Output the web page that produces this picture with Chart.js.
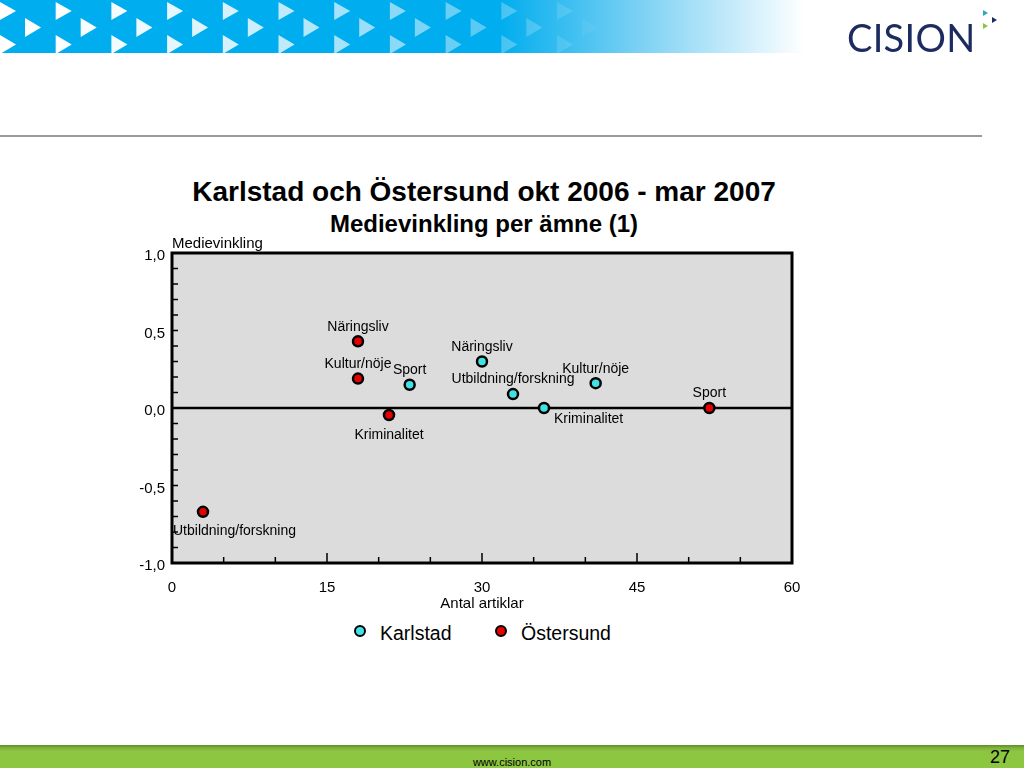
<!DOCTYPE html>
<html>
<head>
<meta charset="utf-8">
<script src="https://cdn.jsdelivr.net/npm/chart.js@4"></script>
<style>
  html, body { margin: 0; padding: 0; background: #fff; }
  body { width: 1024px; height: 768px; position: relative; overflow: hidden; font-family: "Liberation Sans", Arial, sans-serif; }
  #hdr { position: absolute; left: 0; top: 0; }
  #logo { position: absolute; left: 847px; top: 14px; font-family: Lato, "Open Sans", sans-serif; font-weight: 400; font-size: 38px; color: #1d2c60; letter-spacing: 0.3px; }
  #rule { position: absolute; left: 0; top: 135px; width: 982px; height: 2px; background: #9a9a9a; }
  #title { position: absolute; left: 0; width: 968px; top: 176px; text-align: center; font-weight: bold; font-size: 28px; color: #000; }
  #subtitle { position: absolute; left: 0; width: 968px; top: 210px; text-align: center; font-weight: bold; font-size: 24px; color: #000; }
  #chart { position: absolute; left: 0; top: 140px; }
  .leg { position: absolute; top: 622px; font-size: 19.5px; color: #000; }
  .dot { position: absolute; top: 3px; width: 8px; height: 8px; border: 2.5px solid #000; border-radius: 50%; }
  #footer { position: absolute; left: 0; top: 745px; width: 1024px; height: 23px; background: linear-gradient(to bottom, #5f8d2c 0px, #7fb23a 3px, #8cc540 6px, #8dc63f 100%); }
  #url { position: absolute; left: 0; width: 1024px; top: 756px; text-align: center; font-size: 11px; color: #000; }
  #page { position: absolute; left: 990px; top: 747px; font-size: 18px; color: #000; }
</style>
</head>
<body>
<canvas id="hdr" width="1024" height="56"></canvas>
<div id="logo">CISION</div>
<canvas id="mark" width="20" height="30" style="position:absolute;left:980px;top:8px"></canvas>
<div id="rule"></div>
<div id="title">Karlstad och Östersund okt 2006 - mar 2007</div>
<div id="subtitle">Medievinkling per ämne (1)</div>
<canvas id="chart" width="1024" height="480"></canvas>
<div class="leg" style="left:354px"><span class="dot" style="left:0;background:#3fe3e3"></span><span style="position:absolute;left:26px;white-space:nowrap">Karlstad</span></div>
<div class="leg" style="left:495px"><span class="dot" style="left:0;background:#e60000"></span><span style="position:absolute;left:26px;white-space:nowrap">Östersund</span></div>
<div id="footer"></div>
<div id="url">www.cision.com</div>
<div id="page">27</div>
<script>
// data
const seriesNames = ['Karlstad', 'Östersund'];
const karlstadTopics = ['Näringsliv', 'Sport', 'Utbildning/forskning', 'Kriminalitet', 'Kultur/nöje'];
const karlstadX = [30, 23, 33, 36, 41];
const karlstadY = [0.30, 0.15, 0.09, 0.00, 0.16];
const ostersundTopics = ['Näringsliv', 'Kultur/nöje', 'Kriminalitet', 'Sport', 'Utbildning/forskning'];
const ostersundX = [18, 18, 21, 52, 3];
const ostersundY = [0.43, 0.19, -0.045, 0.00, -0.67];
const xTicks = [0, 15, 30, 45, 60];
const yTicks = [-1.0, -0.5, 0.0, 0.5, 1.0];

// where each point's label sits
const karlstadPlace = ['above', 'above', 'above', 'below-right', 'above'];
const ostersundPlace = ['above', 'above', 'below', 'above', 'below-left'];

// header banner with chevrons
(function() {
  const c = document.getElementById('hdr').getContext('2d');
  const g = c.createLinearGradient(0, 0, 805, 0);
  g.addColorStop(0, '#00adee');
  g.addColorStop(0.62, '#00adee');
  g.addColorStop(0.8, '#7fd2f4');
  g.addColorStop(1, '#ffffff');
  c.fillStyle = g;
  c.fillRect(0, 0, 805, 53);
  c.save();
  c.beginPath(); c.rect(0, 0, 805, 53); c.clip();
  const rows = [[0, 2, 20], [25, 18, 37], [0, 35, 54]];
  rows.forEach(function(r) {
    for (let k = 0; k < 12; k++) {
      const x0 = r[0] + k * 55.7;
      const a = Math.max(0, 1 - Math.pow(x0 / 600, 1.8));
      if (a <= 0) continue;
      c.fillStyle = 'rgba(255,255,255,' + a + ')';
      c.beginPath();
      c.moveTo(x0, r[1]);
      c.lineTo(x0 + 16, (r[1] + r[2]) / 2);
      c.lineTo(x0, r[2]);
      c.closePath();
      c.fill();
    }
  });
  c.restore();

  const m = document.getElementById('mark').getContext('2d');
  function tri(x, y, col) {
    m.fillStyle = col;
    m.beginPath(); m.moveTo(x, y); m.lineTo(x + 5, y + 3); m.lineTo(x, y + 6); m.closePath(); m.fill();
  }
  tri(3, 2, '#29a9c9');
  tri(12, 9, '#1d2c60');
  tri(3, 15, '#8cc540');
})();

const fmt = v => v.toFixed(1).replace('.', ',');

const frame = {
  id: 'frame',
  beforeDatasetsDraw(chart) {
    const { ctx, chartArea: a, scales: { x, y } } = chart;
    ctx.save();
    ctx.fillStyle = '#dcdcdc';
    ctx.fillRect(a.left, a.top, a.right - a.left, a.bottom - a.top);
    ctx.strokeStyle = '#000';
    ctx.lineWidth = 1.5;
    ctx.beginPath();
    for (let i = -10; i <= 10; i++) {
      const py = y.getPixelForValue(i / 10);
      ctx.moveTo(a.left, py);
      ctx.lineTo(a.left + 6, py);
    }
    for (let v = 5; v < 60; v += 5) {
      const px = x.getPixelForValue(v);
      ctx.moveTo(px, a.bottom);
      ctx.lineTo(px, a.bottom - (v % 15 === 0 ? 10 : 6));
    }
    ctx.stroke();
    const y0 = y.getPixelForValue(0);
    ctx.lineWidth = 2.5;
    ctx.beginPath();
    ctx.moveTo(a.left, y0);
    ctx.lineTo(a.right, y0);
    ctx.stroke();
    ctx.lineWidth = 3;
    ctx.strokeRect(a.left, a.top, a.right - a.left, a.bottom - a.top);
    ctx.fillStyle = '#000';
    ctx.font = '15px "Liberation Sans", Arial, sans-serif';
    ctx.textAlign = 'left';
    ctx.textBaseline = 'alphabetic';
    ctx.fillText('Medievinkling', a.left, a.top - 5);
    ctx.restore();
  },
  afterDatasetsDraw(chart) {
    const ctx = chart.ctx;
    ctx.save();
    ctx.fillStyle = '#000';
    ctx.font = '14px "Liberation Sans", Arial, sans-serif';
    ctx.textBaseline = 'middle';
    chart.data.datasets.forEach(function(ds, di) {
      const meta = chart.getDatasetMeta(di);
      meta.data.forEach(function(pt, i) {
        const place = ds.places[i];
        let tx = pt.x, ty = pt.y - 14.5;
        ctx.textAlign = 'center';
        if (place === 'below') { ty = pt.y + 20; }
        else if (place === 'below-right') { ctx.textAlign = 'left'; tx = pt.x + 10; ty = pt.y + 11; }
        else if (place === 'below-left') { ctx.textAlign = 'left'; tx = pt.x - 30; ty = pt.y + 19; }
        ctx.fillText(ds.topics[i], tx, ty);
      });
    });
    ctx.restore();
  }
};

new Chart(document.getElementById('chart'), {
  type: 'scatter',
  data: {
    datasets: [
      {
        label: seriesNames[0],
        data: karlstadX.map((v, i) => ({ x: v, y: karlstadY[i] })),
        topics: karlstadTopics,
        places: karlstadPlace,
        backgroundColor: '#3fe3e3',
        borderColor: '#000',
        borderWidth: 2.5,
        pointRadius: 5,
        pointHoverRadius: 5
      },
      {
        label: seriesNames[1],
        data: ostersundX.map((v, i) => ({ x: v, y: ostersundY[i] })),
        topics: ostersundTopics,
        places: ostersundPlace,
        backgroundColor: '#e60000',
        borderColor: '#000',
        borderWidth: 2.5,
        pointRadius: 5,
        pointHoverRadius: 5
      }
    ]
  },
  options: {
    responsive: false,
    animation: false,
    layout: { padding: { left: 100, right: 232, top: 113, bottom: 7 } },
    plugins: { legend: { display: false }, tooltip: { enabled: false } },
    scales: {
      x: {
        type: 'linear',
        min: 0, max: 60,
        afterFit: s => { s.height = 50; },
        afterBuildTicks: s => { s.ticks = xTicks.map(v => ({ value: v })); },
        grid: { display: false, drawTicks: false },
        border: { display: false },
        ticks: { color: '#000', padding: 16, maxRotation: 0, font: { size: 15, family: '"Liberation Sans", Arial, sans-serif' } },
        title: { display: true, text: 'Antal artiklar', color: '#000', padding: 0, font: { size: 15, family: '"Liberation Sans", Arial, sans-serif' } }
      },
      y: {
        min: -1, max: 1,
        afterFit: s => { s.width = 72; },
        afterBuildTicks: s => { s.ticks = yTicks.map(v => ({ value: v })); },
        grid: { display: false, drawTicks: false },
        border: { display: false },
        ticks: { color: '#000', padding: 7, labelOffset: 3, callback: v => fmt(v), font: { size: 15, family: '"Liberation Sans", Arial, sans-serif' } }
      }
    }
  },
  plugins: [frame]
});
</script>
</body>
</html>
